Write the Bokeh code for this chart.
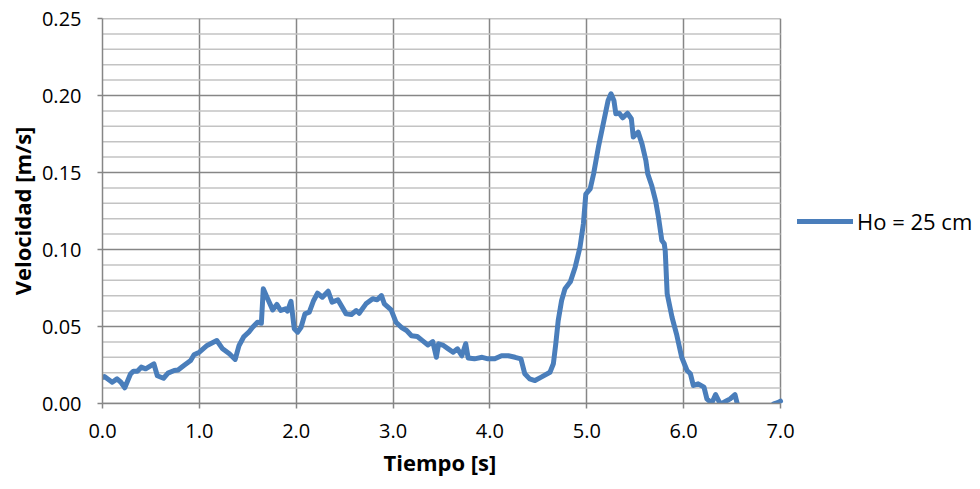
from bokeh.plotting import figure
from bokeh.models import Range1d, FixedTicker, NumeralTickFormatter, Legend, LegendItem, ColumnDataSource, Title
from bokeh.embed import file_html
from bokeh.resources import INLINE

# ---- data ----
tiempo = [0.00, 0.02, 0.10, 0.15, 0.19, 0.23, 0.29, 0.32, 0.36, 0.40, 0.445, 0.53, 0.566, 0.63, 0.676,
          0.74, 0.78, 0.84, 0.91, 0.945, 1.00, 1.08, 1.18, 1.24, 1.31, 1.37, 1.41, 1.46, 1.51, 1.55,
          1.60, 1.64, 1.66, 1.705, 1.757, 1.80, 1.84, 1.89, 1.91, 1.946, 1.98, 2.015, 2.05, 2.09, 2.135,
          2.18, 2.22, 2.27, 2.33, 2.37, 2.43, 2.515, 2.57, 2.62, 2.65, 2.72, 2.79, 2.836, 2.88, 2.91,
          2.98, 3.03, 3.085, 3.14, 3.19, 3.25, 3.30, 3.36, 3.41, 3.447, 3.47, 3.52, 3.57, 3.62, 3.665,
          3.71, 3.75, 3.775, 3.84, 3.92, 3.98, 4.05, 4.12, 4.19, 4.26, 4.32, 4.36, 4.41, 4.465, 4.53,
          4.62, 4.655, 4.68, 4.705, 4.74, 4.775, 4.83, 4.88, 4.93, 4.965, 4.99, 5.035, 5.07, 5.12,
          5.17, 5.22, 5.25, 5.28, 5.30, 5.335, 5.37, 5.42, 5.46, 5.48, 5.53, 5.57, 5.61, 5.63, 5.67,
          5.71, 5.74, 5.775, 5.80, 5.81, 5.83, 5.88, 5.93, 5.98, 6.035, 6.07, 6.10, 6.15, 6.21, 6.24,
          6.29, 6.33, 6.38, 6.45, 6.48, 6.53, 6.555, 6.60, 6.70, 6.80, 6.88, 6.93, 6.97, 7.00]
velocidad = [0.0170, 0.0175, 0.0138, 0.0160, 0.0138, 0.0102, 0.0193, 0.0210, 0.0210, 0.0236, 0.0225,
             0.0258, 0.0180, 0.0164, 0.0197, 0.0214, 0.0218, 0.0247, 0.0279, 0.0316, 0.0333, 0.0377,
             0.0409, 0.0355, 0.0323, 0.0286, 0.0377, 0.0435, 0.0463, 0.0495, 0.0528, 0.0521, 0.0745,
             0.0680, 0.0608, 0.0643, 0.0604, 0.0615, 0.0600, 0.0664, 0.0485, 0.0463, 0.0495, 0.0582,
             0.0593, 0.0669, 0.0716, 0.0690, 0.0729, 0.0658, 0.0673, 0.0582, 0.0578, 0.0604, 0.0586,
             0.0647, 0.0680, 0.0673, 0.0701, 0.0647, 0.0608, 0.0528, 0.0495, 0.0474, 0.0440, 0.0435,
             0.0410, 0.0380, 0.0402, 0.0300, 0.0388, 0.0377, 0.0355, 0.0333, 0.0355, 0.0310, 0.0388,
             0.0296, 0.0290, 0.0300, 0.0290, 0.0290, 0.0310, 0.0310, 0.0300, 0.0290, 0.0193, 0.0160,
             0.0149, 0.0171, 0.0203, 0.0258, 0.0388, 0.0539, 0.0669, 0.0745, 0.0790, 0.0885, 0.1015,
             0.1167, 0.1360, 0.1394, 0.1490, 0.1665, 0.1816, 0.1968, 0.2011, 0.1968, 0.1881, 0.1885,
             0.1855, 0.1885, 0.1849, 0.1730, 0.1762, 0.1686, 0.1578, 0.1490, 0.1416, 0.1318, 0.1210,
             0.1058, 0.1037, 0.0990, 0.0712, 0.0560, 0.0442, 0.0300, 0.0214, 0.0193, 0.0117, 0.0128,
             0.0106, 0.0030, 0.0002, 0.0058, -0.0005, 0.0020, 0.0030, 0.0058, -0.0005, -0.0040,
             -0.0060, -0.0050, -0.0030, -0.0003, 0.0005, 0.0015]
serie = "Ho = 25 cm"
x_title = "Tiempo [s]"
y_title = "Velocidad [m/s]"
x_ticks = [0, 1, 2, 3, 4, 5, 6, 7]
y_ticks = [0.00, 0.05, 0.10, 0.15, 0.20, 0.25]
y_minor = [0.01, 0.02, 0.03, 0.04, 0.06, 0.07, 0.08, 0.09, 0.11, 0.12, 0.13, 0.14,
           0.16, 0.17, 0.18, 0.19, 0.21, 0.22, 0.23, 0.24]

FONT = "Open Sans"
GRID = "#868686"
MINOR = "#c3c3c3"
BLUE = "#4a7ebb"

# layout: plot area spans pixels 102..780 for x = 0..7; the frame is widened to 975 to hold the legend
X_MIN, X_MAX = 0, 7
LEFT, PLOT_RIGHT, FRAME_RIGHT = 102, 780, 975
x_end = X_MAX * (FRAME_RIGHT - LEFT) / (PLOT_RIGHT - LEFT)

p = figure(width=980, height=489, output_backend="svg", toolbar_location=None,
           x_range=Range1d(X_MIN, x_end), y_range=Range1d(0, 0.25),
           min_border_left=LEFT, min_border_right=980 - FRAME_RIGHT, min_border_top=18, min_border_bottom=86,
           background_fill_color="white", border_fill_color="white")
p.outline_line_color = None

# horizontal grid lines limited to the plot area (minor first, then major)
p.ygrid.visible = False
p.segment(x0=[X_MIN] * len(y_minor), x1=[X_MAX] * len(y_minor), y0=y_minor, y1=y_minor,
          line_color=MINOR, line_width=1.5)
p.segment(x0=[X_MIN] * len(y_ticks), x1=[X_MAX] * len(y_ticks), y0=y_ticks, y1=y_ticks,
          line_color=GRID, line_width=1.5)

src = ColumnDataSource(data=dict(t=tiempo, v=velocidad))
r = p.line("t", "v", source=src, line_color=BLUE, line_width=5, line_join="round", line_cap="round")

p.xaxis.ticker = FixedTicker(ticks=x_ticks)
p.yaxis.ticker = FixedTicker(ticks=y_ticks, minor_ticks=y_minor)
p.xaxis.formatter = NumeralTickFormatter(format="0.0")
p.yaxis.formatter = NumeralTickFormatter(format="0.00")
p.xaxis.bounds = (X_MIN, X_MAX)

p.xgrid.grid_line_color = GRID
p.xgrid.grid_line_width = 1.5

for ax in (p.xaxis, p.yaxis):
    ax.axis_line_color = GRID
    ax.axis_line_width = 1.5
    ax.major_tick_line_color = GRID
    ax.major_tick_line_width = 1.5
    ax.major_tick_out = 5
    ax.major_tick_in = 0
    ax.minor_tick_out = 0
    ax.minor_tick_in = 0
    ax.major_label_text_font = FONT
    ax.major_label_text_font_size = "20px"
    ax.major_label_text_color = "black"
    ax.axis_label_text_font = FONT
    ax.axis_label_text_font_size = "22px"
    ax.axis_label_text_font_style = "bold"
    ax.axis_label_text_color = "black"

p.yaxis.axis_label = y_title
p.xaxis.major_label_standoff = 15
p.yaxis.major_label_standoff = 16
p.yaxis.axis_label_standoff = 2

# x-axis title centred under the 0..7 plot area (the frame is wider because of the legend)
xt = Title(text=x_title, align="left", offset=281, standoff=9,
           text_font=FONT, text_font_size="22px", text_font_style="bold", text_color="black")
p.add_layout(xt, "below")

legend = Legend(items=[LegendItem(label=serie, renderers=[r])], location=(695, 167),
                glyph_width=56, glyph_height=30, label_standoff=4, padding=0, margin=0,
                border_line_color=None, background_fill_alpha=0,
                label_text_font=FONT, label_text_font_size="22px", label_text_color="black")
p.add_layout(legend)

open("out.html", "w").write(file_html(p, INLINE))
